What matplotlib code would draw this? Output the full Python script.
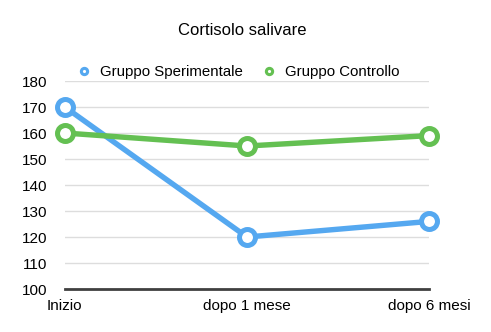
import matplotlib
matplotlib.use("Agg")
import matplotlib.pyplot as plt

categories = ["Inizio", "dopo 1 mese", "dopo 6 mesi"]
sperimentale = [170, 120, 126]
controllo = [160, 155, 159]
yticks = [100, 110, 120, 130, 140, 150, 160, 170, 180]
title = "Cortisolo salivare"

plt.rcParams['font.family'] = ['Liberation Sans', 'DejaVu Sans']

fig = plt.figure(figsize=(4.91, 3.32), dpi=100)
ax = fig.add_axes([0.132, 0.1295, 0.742, 0.6265])

blue = "#55a8f0"
green = "#64c052"
x = list(range(len(categories)))
ax.plot(x, sperimentale, color=blue, lw=3.9, marker='o', ms=11.5, mfc='white',
        mec=blue, mew=3.6, label="Gruppo Sperimentale", zorder=3, clip_on=False)
ax.plot(x, controllo, color=green, lw=3.9, marker='o', ms=11.5, mfc='white',
        mec=green, mew=3.6, label="Gruppo Controllo", zorder=3, clip_on=False)

ax.set_xlim(0, 2)
ax.set_ylim(100, 180)
ax.set_yticks(yticks)
ax.set_xticks(x)
ax.set_xticklabels(categories)
ax.yaxis.grid(True, color="#dddddd", lw=1)
ax.set_axisbelow(True)
for s in ['top', 'right', 'left']:
    ax.spines[s].set_visible(False)
ax.spines['bottom'].set_color('#404040')
ax.spines['bottom'].set_linewidth(2)
ax.tick_params(axis='both', length=0, labelsize=11, colors='black')
ax.tick_params(axis='y', pad=12.5)
ax.tick_params(axis='x', pad=7)

fig.text(0.493, 0.907, title, ha='center', va='center', fontsize=12)

handles, labels = ax.get_legend_handles_labels()
leg = fig.legend(handles, labels, loc='center', bbox_to_anchor=(0.488, 0.782), ncol=2,
                 frameon=False, fontsize=10.8, handlelength=0.6, handletextpad=0.75,
                 columnspacing=1.45)
for h in leg.legend_handles:
    h.set_linewidth(0)
    h.set_markersize(4.5)
    h.set_markeredgewidth(2.2)

fig.savefig("out.png", dpi=100)
